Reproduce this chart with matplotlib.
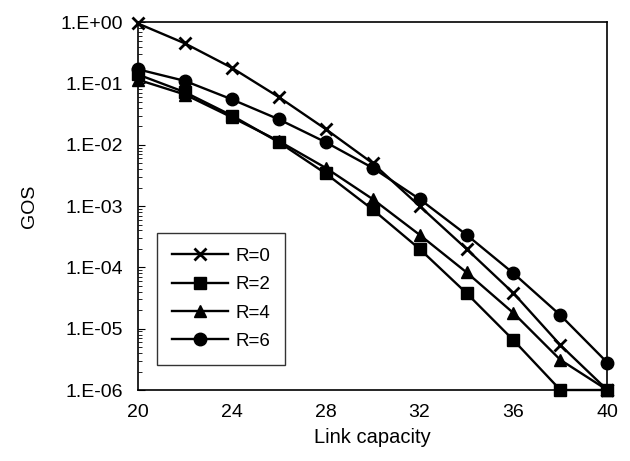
import matplotlib
matplotlib.use("Agg")
import matplotlib.pyplot as plt
from matplotlib.ticker import FixedLocator, FixedFormatter, LogLocator, NullFormatter

plt.rcParams['font.family'] = ['Liberation Sans', 'DejaVu Sans']

capacity = [20, 22, 24, 26, 28, 30, 32, 34, 36, 38, 40]
r0 = [0.95, 0.45, 0.18, 0.06, 0.018, 0.005, 1.0e-3, 2.0e-4, 3.8e-5, 5.4e-6, 1e-6]
r2 = [0.14, 0.072, 0.030, 0.011, 0.0034, 0.00088, 2.0e-4, 3.8e-5, 6.5e-6, 1e-6, 1e-6]
r4 = [0.115, 0.066, 0.028, 0.0115, 0.0042, 0.0013, 3.4e-4, 8.3e-5, 1.8e-5, 3.1e-6, 1e-6]
r6 = [0.17, 0.11, 0.055, 0.026, 0.011, 0.0042, 1.3e-3, 3.4e-4, 8.0e-5, 1.66e-5, 2.8e-6]
series_labels = ["R=0", "R=2", "R=4", "R=6"]
x_ticks = [20, 24, 28, 32, 36, 40]
y_ticks = [1e0, 1e-1, 1e-2, 1e-3, 1e-4, 1e-5, 1e-6]
y_tick_labels = ["1.E+00", "1.E-01", "1.E-02", "1.E-03", "1.E-04", "1.E-05", "1.E-06"]

fig = plt.figure(figsize=(6.3, 4.61), dpi=100)
ax = fig.add_axes([0.219, 0.154, 0.745, 0.798])

styles = [dict(marker='x', markersize=9, markeredgewidth=2),
          dict(marker='s', markersize=8),
          dict(marker='^', markersize=8.5),
          dict(marker='o', markersize=9)]
for data, lab, st in zip([r0, r2, r4, r6], series_labels, styles):
    ax.plot(capacity, data, color='black', linewidth=1.7, label=lab,
            clip_on=False, **st)

ax.set_yscale('log')
ax.set_xlim(20, 40)
ax.set_ylim(1e-6, 1)
ax.xaxis.set_major_locator(FixedLocator(x_ticks))
ax.yaxis.set_major_locator(FixedLocator(y_ticks))
ax.yaxis.set_major_formatter(FixedFormatter(y_tick_labels))
ax.yaxis.set_minor_locator(LogLocator(base=10, subs=range(2, 10)))
ax.yaxis.set_minor_formatter(NullFormatter())
ax.tick_params(axis='y', which='both', direction='in', labelsize=14, pad=11)
ax.tick_params(axis='y', which='major', length=5)
ax.tick_params(axis='y', which='minor', length=3)
ax.tick_params(axis='x', which='both', length=0, labelsize=14, pad=10)
for s in ax.spines.values():
    s.set_linewidth(1.2)

ax.set_xlabel("Link capacity", fontsize=14.5, labelpad=5)
ax.set_ylabel("GOS", fontsize=14, labelpad=16)

leg = ax.legend(loc='lower left', bbox_to_anchor=(0.04, 0.068), borderaxespad=0,
                fontsize=13.5, frameon=True, fancybox=False, edgecolor='black',
                handlelength=3.0, labelspacing=0.6, borderpad=0.8, handletextpad=0.4)
leg.get_frame().set_linewidth(1.0)

fig.savefig("out.png", dpi=100)
